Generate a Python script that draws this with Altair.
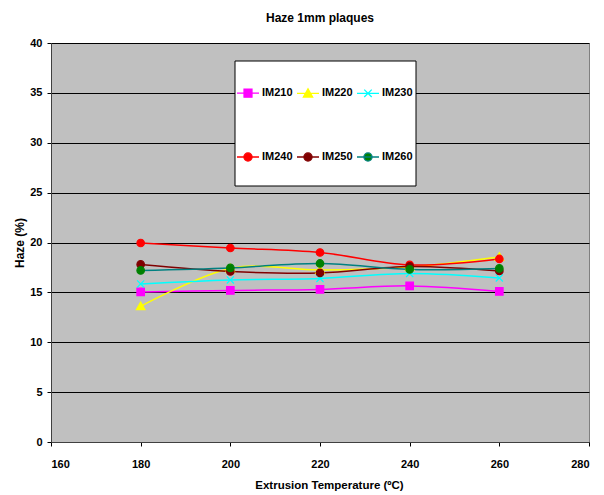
import altair as alt
import pandas as pd

# Extrusion temperatures (ºC) and haze readings (%) per grade
temps = [180, 200, 220, 240, 260]
series_names = ["IM210", "IM220", "IM230", "IM240", "IM250", "IM260"]
im210 = [15.05, 15.2, 15.3, 15.65, 15.1]
im220 = [13.6, 17.4, 17.25, 17.55, 18.55]
im230 = [15.85, 16.25, 16.4, 16.9, 16.45]
im240 = [19.95, 19.45, 19.0, 17.75, 18.35]
im250 = [17.8, 17.1, 16.95, 17.6, 17.15]
im260 = [17.2, 17.45, 17.9, 17.3, 17.4]

x_ticks = [160, 180, 200, 220, 240, 260, 280]
y_ticks = [0, 5, 10, 15, 20, 25, 30, 35, 40]

line_colors = ["#FF00FF", "#FFFF00", "#00FFFF", "#FF0000", "#800000", "#008080"]
marker_colors = ["#FF00FF", "#FFFF00", "#00FFFF", "#FF0000", "#800000", "#008000"]

# marker glyphs as symbol paths in the unit box
marker_paths = [
    "M-1,-1H1V1H-1Z",
    "M0,-1.15L1.15,0.9H-1.15Z",
    "M-0.95,-0.95L0.95,0.95M-0.95,0.95L0.95,-0.95",
    "M1,0A1,1 0 1,1 -1,0A1,1 0 1,1 1,0Z",
    "M1,0A1,1 0 1,1 -1,0A1,1 0 1,1 1,0Z",
    "M1,0A1,1 0 1,1 -1,0A1,1 0 1,1 1,0Z",
]
# legend glyphs: a short line segment with the marker in its middle
legend_paths = [
    "M-1,0H1M-0.36,-0.36H0.36V0.36H-0.36Z",
    "M-1,0H1M0,-0.42L0.42,0.33H-0.42Z",
    "M-1,0H1M-0.34,-0.34L0.34,0.34M-0.34,0.34L0.34,-0.34",
    "M-1,0H1M0.37,0A0.37,0.37 0 1,1 -0.37,0A0.37,0.37 0 1,1 0.37,0Z",
    "M-1,0H1M0.37,0A0.37,0.37 0 1,1 -0.37,0A0.37,0.37 0 1,1 0.37,0Z",
    "M-1,0H1M0.37,0A0.37,0.37 0 1,1 -0.37,0A0.37,0.37 0 1,1 0.37,0Z",
]

values = [im210, im220, im230, im240, im250, im260]
rows = []
for name, vals in zip(series_names, values):
    for t, v in zip(temps, vals):
        rows.append({"series": name, "temp": t, "haze": v})
df = pd.DataFrame(rows)

FONT = "Liberation Sans"

x_enc = alt.X(
    "temp:Q",
    scale=alt.Scale(domain=[160, 280], nice=False, zero=False),
    axis=alt.Axis(
        values=x_ticks,
        title="Extrusion Temperature (ºC)",
        titleFontSize=11.5,
        grid=False,
        titleX=278,
        titleY=46,
        titleBaseline="alphabetic",
        titleAlign="center",
        labelPadding=12,
    ),
)
y_enc = alt.Y(
    "haze:Q",
    scale=alt.Scale(domain=[0, 40], nice=False),
    axis=alt.Axis(
        values=y_ticks,
        title="Haze (%)",
        titleFontSize=12,
        grid=True,
        titleX=-28,
        titleY=199.5,
        titleBaseline="alphabetic",
        titleAlign="center",
        labelPadding=5,
    ),
)

legend = alt.Legend(
    title=None,
    orient="none",
    direction="horizontal",
    legendX=185,
    legendY=38,
    columns=3,
    columnPadding=1,
    rowPadding=45,
    padding=0,
    symbolSize=484,
    symbolStrokeWidth=1.3,
    symbolOpacity=1,
    labelOffset=2,
    labelFont=FONT,
    labelFontSize=11,
    labelFontWeight="bold",
    labelColor="black",
)

# white legend frame
frame = (
    alt.Chart(alt.Data(values=[{"box": 1}]))
    .mark_rect(fill="white", stroke="black", strokeWidth=1)
    .encode(x=alt.value(184), x2=alt.value(365), y=alt.value(18), y2=alt.value(143))
)

lines = (
    alt.Chart(df)
    .mark_line(interpolate="cardinal", strokeWidth=1.5)
    .encode(
        x=x_enc,
        y=y_enc,
        color=alt.Color(
            "series:N",
            scale=alt.Scale(domain=series_names, range=line_colors),
            legend=None,
        ),
    )
)

points = (
    alt.Chart(df)
    .mark_point(filled=True, opacity=1, size=56, strokeWidth=1.2)
    .encode(
        x=x_enc,
        y=y_enc,
        fill=alt.Fill(
            "series:N",
            scale=alt.Scale(domain=series_names, range=marker_colors),
            legend=None,
        ),
        stroke=alt.Stroke(
            "series:N",
            scale=alt.Scale(domain=series_names, range=marker_colors),
            legend=None,
        ),
        shape=alt.Shape(
            "series:N",
            scale=alt.Scale(domain=series_names, range=marker_paths),
            legend=None,
        ),
    )
)

# key layer: no marks of its own, only supplies the legend entries
key = (
    alt.Chart(df)
    .transform_filter("false")
    .mark_point(filled=True)
    .encode(
        x=x_enc,
        y=y_enc,
        fill=alt.Fill(
            "series:N",
            scale=alt.Scale(domain=series_names, range=marker_colors),
            legend=legend,
        ),
        stroke=alt.Stroke(
            "series:N",
            scale=alt.Scale(domain=series_names, range=line_colors),
            legend=legend,
        ),
        shape=alt.Shape(
            "series:N",
            scale=alt.Scale(domain=series_names, range=legend_paths),
            legend=legend,
        ),
    )
)

chart = (
    alt.layer(frame, lines, points, key)
    .resolve_scale(fill="independent", stroke="independent", shape="independent")
    .properties(
        width=538,
        height=399,
        autosize=alt.AutoSizeParams(type="none"),
        padding={"left": 51, "top": 43, "right": 15, "bottom": 53},
        background="white",
        title=alt.TitleParams(
            "Haze 1mm plaques",
            font=FONT,
            fontSize=12,
            fontWeight="bold",
            color="black",
            anchor="middle",
            baseline="alphabetic",
            offset=3,
        ),
    )
    .configure_view(fill="#C0C0C0", stroke="#808080", strokeWidth=1)
    .configure_axis(
        labelFont=FONT,
        labelFontSize=11,
        labelFontWeight="bold",
        labelColor="black",
        titleFont=FONT,
        titleFontSize=11,
        titleFontWeight="bold",
        titleColor="black",
        domainColor="#404040",
        domainWidth=1,
        tickColor="black",
        tickSize=4,
        gridColor="black",
        gridWidth=1,
        gridOpacity=1,
    )
)

chart.save("out.html", embed_options={"renderer": "svg", "actions": False})
